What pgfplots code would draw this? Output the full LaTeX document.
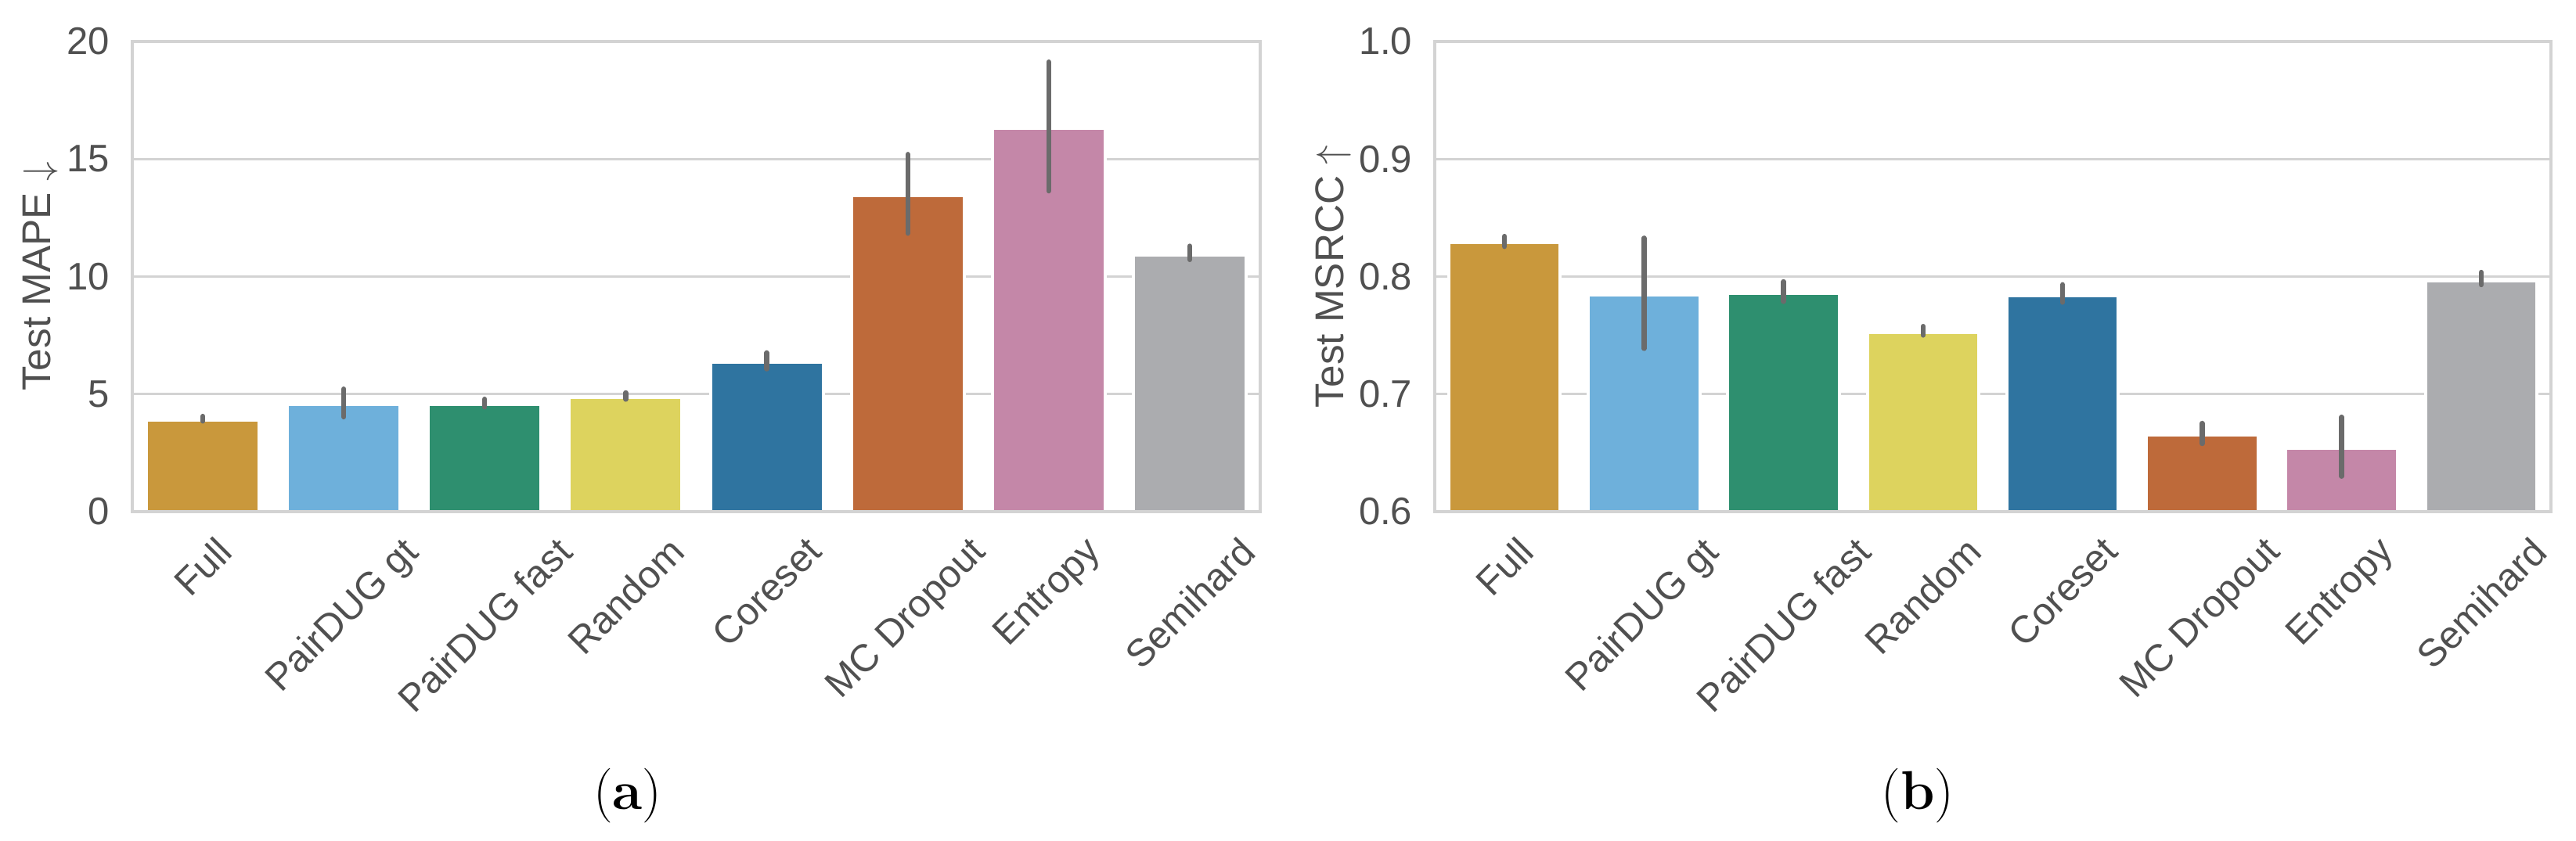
\documentclass[border=0pt]{standalone}
\usepackage{fontspec}
\usepackage{graphicx}
\usepackage{pgfplots}
\pgfplotsset{compat=1.18}
\newfontfamily\arial{Liberation Sans}
\newcommand\tickfont{\arial\fontsize{10.9}{13}\selectfont}
\newcommand\labelfont{\arial\fontsize{11.4}{13.5}\selectfont}
\newcommand\capfont{\fontsize{15.5}{18}\selectfont}
\definecolor{cFull}{HTML}{C9983C}
\definecolor{cGt}{HTML}{6EB0DB}
\definecolor{cFast}{HTML}{2E8F6F}
\definecolor{cRand}{HTML}{DDD35E}
\definecolor{cCore}{HTML}{2F74A0}
\definecolor{cMC}{HTML}{BE6A3A}
\definecolor{cEnt}{HTML}{C487A8}
\definecolor{cSemi}{HTML}{ABACAF}
\definecolor{errgray}{HTML}{6B6B6B}
\definecolor{gridgray}{HTML}{D3D3D3}
\definecolor{labelgray}{HTML}{505050}
\pgfplotsset{
  mybase/.style={
    scale only axis, anchor=south west,
    xmin=-0.5, xmax=7.5,
    xtick={0,1,2,3,4,5,6,7},
    xticklabels={\rotatebox{45}{Full},\rotatebox{45}{PairDUG gt},\rotatebox{45}{PairDUG fast},\rotatebox{45}{Random},\rotatebox{45}{Coreset},\rotatebox{45}{MC Dropout},\rotatebox{45}{Entropy},\rotatebox{45}{Semihard}},
    xticklabel style={anchor=north, inner sep=0pt, yshift=-6.4pt, font=\tickfont, text=labelgray},
    yticklabel style={anchor=east, inner sep=0pt, xshift=-6.2pt, font=\tickfont, text=labelgray, /pgf/number format/assume math mode=true},
    major tick length=0pt, tick style={draw=none},
    ymajorgrids, grid style={gridgray, line width=0.75pt},
    axis line style={gridgray, line width=0.95pt},
    label style={font=\labelfont, text=labelgray},
    ybar, bar width=0.8,
  },
  mybar/.style={fill=#1, draw=white, line width=0.9pt, bar shift=0pt,
    error bars/.cd, y dir=both, y explicit, error mark=none,
    error bar style={errgray, line width=1.4pt, line cap=round}},
}
\begin{document}
\begin{tikzpicture}
\useasboundingbox (0,0) rectangle (731.33pt,238.67pt);
\begin{axis}[mybase, at={(37.56pt,93.33pt)}, width=320.22pt, height=133.56pt,
  ymin=0, ymax=20, ytick={0,5,10,15,20},
  ylabel={Test MAPE $\downarrow$},
  ylabel style={at={(axis description cs:-0.0812,0.5)}, anchor=center}]
\addplot[mybar=cFull] coordinates {(0,3.88) += (0,0.18) -= (0,0.03)};
\addplot[mybar=cGt] coordinates {(1,4.55) += (0,0.67) -= (0,0.52)};
\addplot[mybar=cFast] coordinates {(2,4.55) += (0,0.24) -= (0,0.10)};
\addplot[mybar=cRand] coordinates {(3,4.85) += (0,0.21) -= (0,0.07)};
\addplot[mybar=cCore] coordinates {(4,6.35) += (0,0.41) -= (0,0.28)};
\addplot[mybar=cMC] coordinates {(5,13.45) += (0,1.75) -= (0,1.61)};
\addplot[mybar=cEnt] coordinates {(6,16.31) += (0,2.82) -= (0,2.67)};
\addplot[mybar=cSemi] coordinates {(7,10.93) += (0,0.37) -= (0,0.21)};
\draw[gridgray, line width=0.95pt] (rel axis cs:0,0) rectangle (rel axis cs:1,1);
\end{axis}
\begin{axis}[mybase, at={(407.33pt,93.33pt)}, width=316.89pt, height=133.56pt,
  ymin=0.6, ymax=1.0, ytick={0.6,0.7,0.8,0.9,1.0},
  yticklabel style={/pgf/number format/.cd, fixed, fixed zerofill, precision=1},
  ylabel={Test MSRCC $\uparrow$},
  ylabel style={at={(axis description cs:-0.0912,0.5)}, anchor=center}]
\addplot[mybar=cFull] coordinates {(0,0.8287) += (0,0.0056) -= (0,0.0032)};
\addplot[mybar=cGt] coordinates {(1,0.7847) += (0,0.0481) -= (0,0.0459)};
\addplot[mybar=cFast] coordinates {(2,0.7860) += (0,0.0097) -= (0,0.0072)};
\addplot[mybar=cRand] coordinates {(3,0.7524) += (0,0.0053) -= (0,0.0023)};
\addplot[mybar=cCore] coordinates {(4,0.7840) += (0,0.0092) -= (0,0.0059)};
\addplot[mybar=cMC] coordinates {(5,0.6653) += (0,0.0099) -= (0,0.0074)};
\addplot[mybar=cEnt] coordinates {(6,0.6540) += (0,0.0265) -= (0,0.0239)};
\addplot[mybar=cSemi] coordinates {(7,0.7967) += (0,0.0070) -= (0,0.0037)};
\draw[gridgray, line width=0.95pt] (rel axis cs:0,0) rectangle (rel axis cs:1,1);
\end{axis}
\node[font=\capfont, anchor=base] at (178.2pt,8.78pt) {(\textbf{a})};
\node[font=\capfont, anchor=base] at (544.4pt,8.78pt) {(\textbf{b})};
\end{tikzpicture}
\end{document}
